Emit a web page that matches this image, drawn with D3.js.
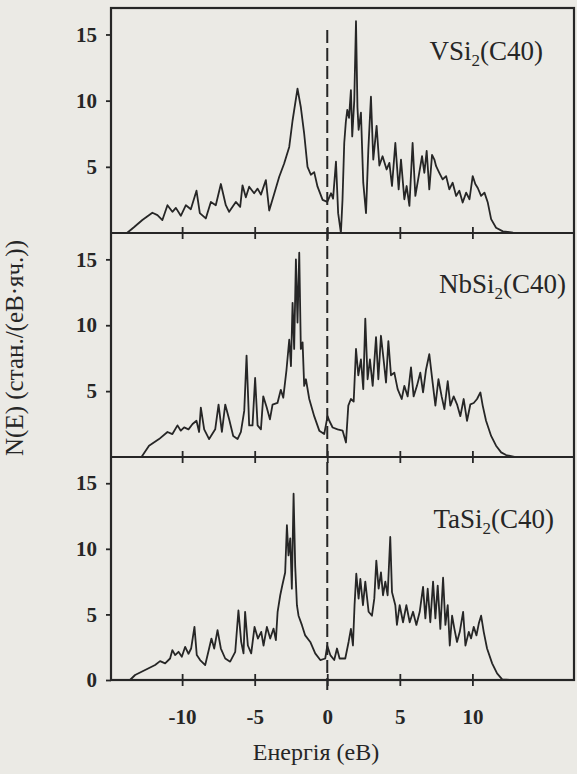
<!DOCTYPE html>
<html>
<head>
<meta charset="utf-8">
<script src="https://cdn.jsdelivr.net/npm/d3@7"></script>
<style>
html, body { margin: 0; padding: 0; background: #ebeae5; }
svg { display: block; }
text { font-family: "Liberation Serif", "Times New Roman", serif; }
</style>
</head>
<body>
<div id="chart"></div>
<script>
// ─── Data ───

var energyTicks = [-10, -5, 0, 5, 10];
var dosTicks = [5, 10, 15];
var dosTicksBottom = [0, 5, 10, 15];

// VSi2 (C40): [E (eV), N(E)]
var vsi2Dos = [
  [-13.8,0],[-13.3,0.45],[-12.74,0.98],[-12.05,1.53],[-11.7,1.35],[-11.36,0.98],[-11.01,2.1],[-10.67,1.6],
  [-10.43,1.9],[-10.09,1.3],[-9.74,2.1],[-9.4,1.8],[-9.01,3.2],[-8.78,1.5],[-8.37,1.1],[-8.02,2.35],
  [-7.68,2.1],[-7.33,3.7],[-6.99,2.1],[-6.76,1.6],[-6.3,2.35],[-6.0,1.97],[-5.84,3.6],[-5.61,2.7],
  [-5.38,3.5],[-5.04,3.0],[-4.8,3.35],[-4.57,2.9],[-4.23,4.0],[-4.0,1.7],[-3.66,2.95],[-3.31,4.25],
  [-2.97,5.25],[-2.62,6.5],[-2.39,8.5],[-2.05,10.9],[-1.82,9.5],[-1.59,7.5],[-1.36,5.0],[-1.13,4.4],
  [-0.9,4.6],[-0.67,3.5],[-0.32,2.5],[0.0,2.35],[0.26,3.0],[0.4,2.6],[0.6,5.4],[0.75,1.5],
  [0.94,0],[1.05,2.5],[1.17,6.8],[1.28,8.4],[1.38,9.3],[1.5,8.7],[1.63,10.8],[1.72,7.3],
  [1.86,10.0],[1.98,16.0],[2.08,9.5],[2.16,7.8],[2.32,9.1],[2.48,3.8],[2.67,1.5],[2.83,6.3],
  [3.01,10.3],[3.17,5.55],[3.4,8.1],[3.59,5.1],[3.81,5.8],[4.09,4.8],[4.28,5.3],[4.46,3.55],
  [4.69,6.8],[4.92,3.3],[5.08,5.55],[5.31,2.55],[5.47,3.55],[5.66,2.05],[5.88,6.8],[6.07,2.8],
  [6.3,4.3],[6.53,5.8],[6.69,4.55],[6.85,6.2],[7.03,3.3],[7.22,5.9],[7.38,5.55],[7.5,5.05],
  [7.72,4.55],[7.95,4.05],[8.19,4.3],[8.41,3.3],[8.64,3.8],[8.88,2.8],[9.1,3.2],[9.33,2.3],
  [9.57,3.05],[9.8,2.55],[10.02,4.3],[10.2,3.7],[10.37,3.4],[10.6,2.8],[10.83,3.05],[11.06,2.3],
  [11.29,1.05],[11.63,0.4],[12.1,0.12],[12.8,0.03],[13.5,0],[17,0]
];

// NbSi2 (C40)
var nbsi2Dos = [
  [-12.8,0],[-12.28,0.86],[-11.59,1.36],[-11.01,1.9],[-10.67,1.74],[-10.32,2.4],[-10.09,2.0],[-9.86,2.25],
  [-9.56,2.1],[-9.28,2.5],[-9.01,2.75],[-8.83,1.9],[-8.71,3.75],[-8.48,2.1],[-8.14,1.36],[-7.72,2.1],
  [-7.49,3.98],[-7.26,1.9],[-7.03,3.98],[-6.76,2.86],[-6.48,1.6],[-6.18,1.36],[-5.95,1.9],[-5.72,3.5],
  [-5.56,7.7],[-5.38,2.4],[-5.15,2.4],[-4.97,6.0],[-4.8,2.4],[-4.57,2.1],[-4.41,4.6],[-4.18,3.8],
  [-3.95,2.86],[-3.77,3.98],[-3.43,4.1],[-3.2,5.1],[-3.03,4.5],[-2.81,6.6],[-2.62,8.9],[-2.5,6.9],
  [-2.39,11.7],[-2.28,8.2],[-2.16,15.0],[-2.05,10.2],[-1.93,15.5],[-1.82,8.2],[-1.7,8.7],[-1.59,5.4],
  [-1.47,5.9],[-1.24,4.4],[-0.9,3.1],[-0.55,2.0],[-0.21,1.74],[0.02,3.1],[0.14,2.75],[0.37,2.24],
  [0.71,2.1],[1.06,2.0],[1.29,1.1],[1.45,3.9],[1.63,4.4],[1.82,4.2],[1.98,8.2],[2.14,6.2],
  [2.32,7.4],[2.48,5.15],[2.62,10.5],[2.78,5.9],[2.94,7.4],[3.13,5.4],[3.36,9.1],[3.52,5.9],
  [3.7,9.2],[3.88,7.4],[4.05,5.65],[4.21,8.8],[4.39,6.2],[4.62,6.4],[4.85,5.15],[5.13,4.4],
  [5.31,5.4],[5.54,4.6],[5.77,6.8],[5.95,4.6],[6.18,5.4],[6.41,6.4],[6.6,4.9],[6.8,6.6],
  [7.03,7.8],[7.26,5.65],[7.45,3.9],[7.66,5.9],[7.88,4.6],[8.07,3.64],[8.3,5.75],[8.48,3.9],
  [8.71,4.6],[8.94,4.0],[9.17,3.1],[9.4,4.4],[9.63,2.75],[9.86,4.0],[10.09,4.1],[10.32,4.4],
  [10.55,4.9],[10.71,3.9],[10.94,2.75],[11.29,1.6],[11.63,0.86],[11.98,0.35],[12.32,0.15],[12.9,0],[17,0]
];

// TaSi2 (C40)
var tasi2Dos = [
  [-13.59,0],[-13.24,0.38],[-12.55,0.76],[-11.86,1.14],[-11.52,1.44],[-11.17,1.27],[-10.83,1.64],[-10.67,2.28],
  [-10.48,1.9],[-10.25,2.15],[-10.02,1.77],[-9.79,2.53],[-9.56,2.0],[-9.38,2.4],[-9.15,4.05],[-8.99,1.9],
  [-8.76,1.52],[-8.41,1.14],[-8.14,2.4],[-7.98,3.16],[-7.79,2.4],[-7.56,3.8],[-7.33,2.4],[-7.03,1.64],
  [-6.69,1.4],[-6.34,2.15],[-6.12,5.3],[-5.93,2.91],[-5.77,2.03],[-5.66,5.2],[-5.47,2.63],[-5.24,2.03],
  [-5.01,4.05],[-4.78,3.16],[-4.55,3.67],[-4.39,2.63],[-4.16,4.05],[-3.93,3.16],[-3.7,3.92],[-3.54,3.04],
  [-3.42,5.2],[-3.24,6.46],[-3.1,7.2],[-2.9,8.2],[-2.78,11.8],[-2.67,9.5],[-2.55,10.8],[-2.44,6.96],
  [-2.32,14.2],[-2.21,8.7],[-2.09,5.7],[-1.98,4.9],[-1.75,4.2],[-1.52,3.4],[-1.17,2.9],[-0.83,2.03],
  [-0.48,1.52],[-0.14,1.64],[0.0,2.6],[0.21,1.9],[0.48,1.52],[0.67,2.4],[0.85,1.64],[1.24,1.64],
  [1.47,2.9],[1.63,3.9],[1.77,2.63],[1.88,5.7],[2.0,8.1],[2.16,6.2],[2.28,7.7],[2.46,5.7],
  [2.62,7.5],[2.85,5.2],[3.08,4.9],[3.24,6.2],[3.38,9.1],[3.54,6.96],[3.7,8.2],[3.84,6.46],
  [4.0,7.5],[4.16,6.46],[4.34,10.9],[4.46,6.7],[4.69,5.7],[4.8,4.2],[4.99,5.7],[5.22,4.4],
  [5.45,5.7],[5.68,4.4],[5.91,5.2],[6.14,4.2],[6.37,5.2],[6.6,7.1],[6.76,4.7],[6.92,6.96],
  [7.1,4.4],[7.29,7.5],[7.45,4.7],[7.61,7.2],[7.79,3.9],[7.98,7.8],[8.14,4.2],[8.3,5.7],
  [8.44,2.63],[8.6,4.9],[8.76,3.9],[8.94,2.9],[9.13,3.67],[9.36,5.2],[9.52,2.63],[9.75,3.67],
  [9.91,3.17],[10.09,4.05],[10.28,3.4],[10.44,4.3],[10.6,4.9],[10.78,3.67],[11.01,2.4],[11.36,1.27],
  [11.7,0.5],[12.05,0.05],[12.6,0],[17,0]
];

var compoundNames = ['VSi', 'NbSi', 'TaSi'];

// ─── Layout ───

var W = 577, H = 774;
var ink = '#262626';
var frameL = 111, frameR = 574;
var panels = [
  { name: compoundNames[0], data: vsi2Dos, top: 8,   bottom: 233, labelX: 543, labelY: 60 },
  { name: compoundNames[1], data: nbsi2Dos, top: 233, bottom: 457, labelX: 566, labelY: 293 },
  { name: compoundNames[2], data: tasi2Dos, top: 457, bottom: 680, labelX: 554, labelY: 528 }
];

var svg = d3.select('#chart').append('svg').attr('width', W).attr('height', H);
svg.append('rect').attr('width', W).attr('height', H).attr('fill', '#ebeae5');

var x = d3.scaleLinear().domain([-14.9, 17]).range([frameL, frameR]);

panels.forEach(function(p, i) {
  var y = d3.scaleLinear().domain([0, 17]).range([p.bottom, p.top]);
  var g = svg.append('g');

  // curve
  var line = d3.line().x(function(d) { return x(d[0]); }).y(function(d) { return y(d[1]); });
  g.append('path').datum(p.data).attr('d', line)
    .attr('fill', 'none').attr('stroke', ink).attr('stroke-width', 1.8).attr('stroke-linejoin', 'round');

  // left ticks + labels
  var yAxis = g.append('g').attr('transform', 'translate(' + frameL + ',0)')
    .call(d3.axisLeft(y).tickValues(i === 2 ? dosTicksBottom : dosTicks).tickSize(5).tickPadding(9)
      .tickFormat(function(d) { return String(d); }));
  yAxis.select('.domain').remove();
  yAxis.selectAll('line').attr('stroke', ink).attr('stroke-width', 1.8);
  yAxis.selectAll('text').attr('font-family', '"Liberation Serif", serif').attr('font-size', 21)
    .attr('font-weight', 'bold').attr('fill', ink);

  // energy ticks crossing the baseline
  [6, -6].forEach(function(len) {
    var xa = g.append('g').attr('transform', 'translate(0,' + p.bottom + ')')
      .call(d3.axisBottom(x).tickValues(energyTicks).tickSize(len).tickFormat(''));
    xa.select('.domain').remove();
    xa.selectAll('line').attr('stroke', ink).attr('stroke-width', 1.8);
  });

  // compound label
  var t = g.append('text').attr('x', p.labelX).attr('y', p.labelY).attr('text-anchor', 'end')
    .attr('font-size', 27).attr('fill', ink);
  t.append('tspan').text(p.name);
  t.append('tspan').attr('font-size', 17).attr('dy', 6).text('2');
  t.append('tspan').attr('dy', -6).text('(C40)');
});

// energy tick labels under the bottom panel
var xLabels = svg.append('g').attr('transform', 'translate(0,680)')
  .call(d3.axisBottom(x).tickValues(energyTicks).tickSize(0).tickPadding(29)
    .tickFormat(function(d) { return String(d); }));
xLabels.select('.domain').remove();
xLabels.selectAll('text').attr('font-family', '"Liberation Serif", serif').attr('font-size', 21)
  .attr('font-weight', 'bold').attr('fill', ink);

// frame and panel separators
svg.append('rect').attr('x', frameL).attr('y', 8).attr('width', frameR - frameL).attr('height', 672)
  .attr('fill', 'none').attr('stroke', ink).attr('stroke-width', 2.2);
[233, 457].forEach(function(yy) {
  svg.append('line').attr('x1', frameL).attr('x2', frameR).attr('y1', yy).attr('y2', yy)
    .attr('stroke', ink).attr('stroke-width', 2.2);
});

// Fermi level
svg.append('line').attr('x1', x(0)).attr('x2', x(0)).attr('y1', 30).attr('y2', 690)
  .attr('stroke', ink).attr('stroke-width', 2).attr('stroke-dasharray', '13,5');

// axis titles
svg.append('text').attr('transform', 'translate(23,348) rotate(-90)').attr('text-anchor', 'middle')
  .attr('font-size', 25).attr('fill', ink).text('N(E) (стан./(еВ·яч.))');
svg.append('text').attr('x', 316).attr('y', 760).attr('text-anchor', 'middle')
  .attr('font-size', 24).attr('fill', ink).text('Енергія (еВ)');
</script>
</body>
</html>
